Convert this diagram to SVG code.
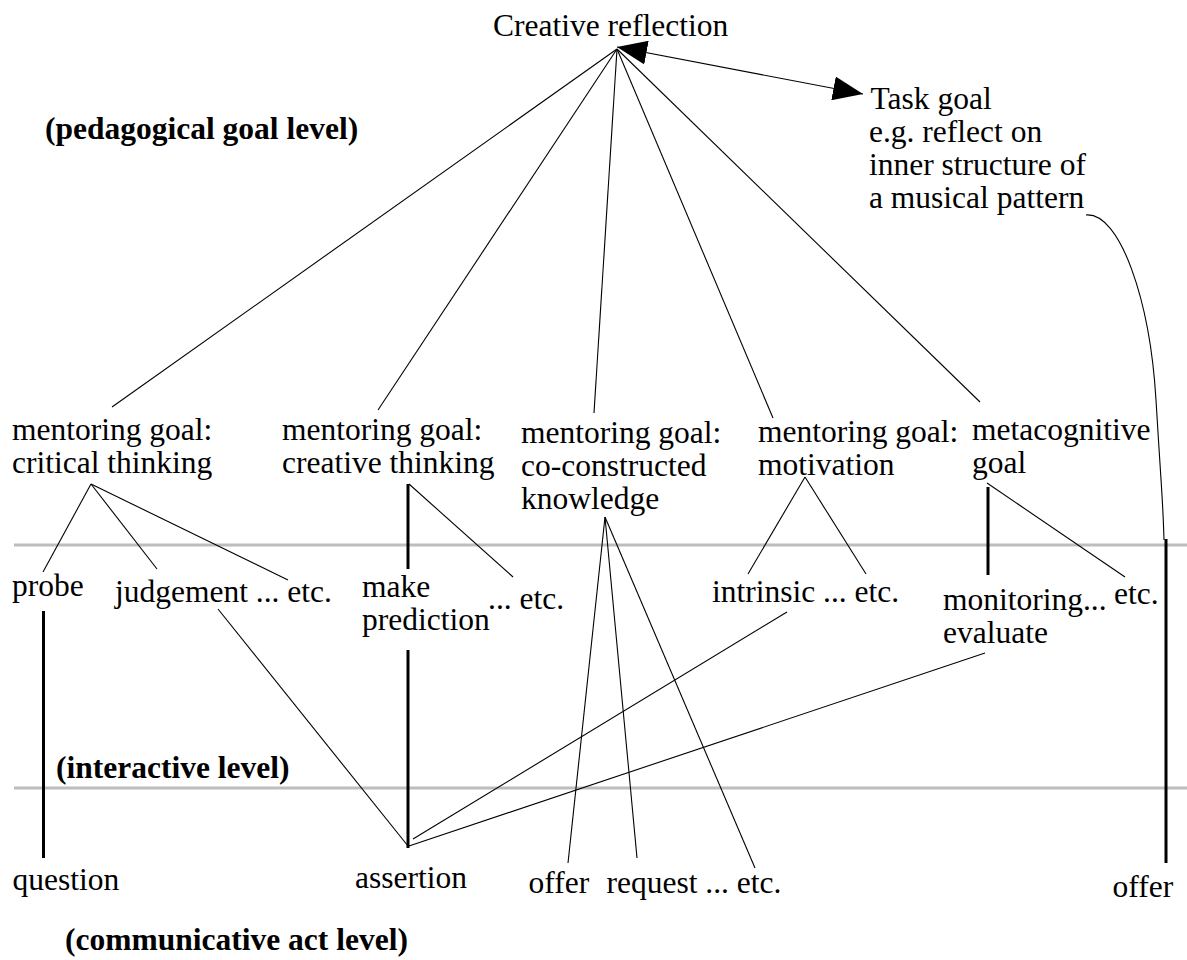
<svg xmlns="http://www.w3.org/2000/svg" width="1187" height="960" viewBox="0 0 1187 960">
<style>
text{font-family:'Liberation Serif','Times New Roman','DejaVu Serif',serif;font-size:31.5px;fill:#000}
.b{font-weight:bold}
.thin{stroke:#000;stroke-width:1.1;fill:none}
.bold{stroke:#000;stroke-width:3;fill:none}
.sep{stroke:#bdbdbd;stroke-width:3}
</style>
<defs>
<marker id="ah" markerUnits="userSpaceOnUse" markerWidth="30" markerHeight="24" viewBox="0 0 30 24" refX="30" refY="12" orient="auto-start-reverse">
<path d="M0,0 L30,12 L0,24 z" fill="#000"/>
</marker>
</defs>
<rect width="1187" height="960" fill="#fff"/>
<g id="separators">
<line class="sep" x1="14" y1="545" x2="1187" y2="545"/>
<line class="sep" x1="14" y1="788" x2="1187" y2="788"/>
</g>
<g id="connectors">
<line class="thin" x1="617" y1="49" x2="112" y2="407"/>
<line class="thin" x1="617" y1="49" x2="378" y2="410"/>
<line class="thin" x1="617" y1="49" x2="594" y2="413"/>
<line class="thin" x1="617" y1="49" x2="773" y2="418"/>
<line class="thin" x1="617" y1="49" x2="980" y2="402"/>
<path class="thin" d="M617,47 L863,94" marker-start="url(#ah)" marker-end="url(#ah)"/>
<path class="thin" d="M1086,215 C1120,212 1150,300 1156,400 S1163,500 1164,540"/>
<line class="bold" x1="1166" y1="539" x2="1166" y2="863"/>
<line class="thin" x1="91" y1="484" x2="43" y2="572"/>
<line class="thin" x1="91" y1="484" x2="157" y2="569"/>
<line class="thin" x1="91" y1="484" x2="288" y2="580"/>
<line class="bold" x1="408" y1="484" x2="408" y2="569"/>
<line class="thin" x1="409" y1="484" x2="513" y2="577"/>
<line class="thin" x1="605" y1="517" x2="568" y2="863"/>
<line class="thin" x1="605" y1="517" x2="637" y2="858"/>
<line class="thin" x1="605" y1="517" x2="755" y2="868"/>
<line class="thin" x1="805" y1="477" x2="748" y2="574"/>
<line class="thin" x1="805" y1="477" x2="866" y2="574"/>
<line class="bold" x1="988" y1="487" x2="988" y2="575"/>
<line class="thin" x1="987" y1="483" x2="1125" y2="577"/>
<line class="bold" x1="43.5" y1="611" x2="43.5" y2="858"/>
<line class="bold" x1="408" y1="650" x2="408" y2="848"/>
<line class="thin" x1="218" y1="609" x2="408" y2="846"/>
<line class="thin" x1="787" y1="612" x2="413" y2="839"/>
<line class="thin" x1="985" y1="653" x2="409" y2="846"/>
</g>
<g font-family="Liberation Serif, Times New Roman, DejaVu Serif, serif">
<g id="level-pedagogical"><text class="b" x="45" y="139">(pedagogical goal level)</text></g>
<g id="level-interactive"><text class="b" x="56" y="778">(interactive level)</text></g>
<g id="level-communicative"><text class="b" x="65" y="950">(communicative act level)</text></g>
<g id="n-creative-reflection"><text x="493" y="36">Creative reflection</text></g>
<g id="n-task-goal">
<text x="870.5" y="109">Task goal</text>
<text x="869" y="142">e.g. reflect on</text>
<text x="869" y="175">inner structure of</text>
<text x="869" y="208">a musical pattern</text>
</g>
<g id="n-critical"><text x="12" y="440">mentoring goal:</text><text x="12" y="473">critical thinking</text></g>
<g id="n-creative"><text x="282" y="440">mentoring goal:</text><text x="282" y="473">creative thinking</text></g>
<g id="n-coconstructed"><text x="521" y="443">mentoring goal:</text><text x="521" y="476">co-constructed</text><text x="521" y="509">knowledge</text></g>
<g id="n-motivation"><text x="758" y="442">mentoring goal:</text><text x="758" y="475">motivation</text></g>
<g id="n-metacognitive"><text x="972" y="440">metacognitive</text><text x="972" y="473">goal</text></g>
<g id="n-probe"><text x="12" y="596">probe</text></g>
<g id="n-judgement"><text x="115" y="602">judgement ... etc.</text></g>
<g id="n-make-prediction"><text x="362" y="597">make</text><text x="362" y="630">prediction</text></g>
<g id="n-creative-etc"><text x="488" y="609">... etc.</text></g>
<g id="n-intrinsic"><text x="712" y="602">intrinsic ... etc.</text></g>
<g id="n-monitoring"><text x="943" y="610">monitoring...</text><text x="1114" y="604">etc.</text><text x="943" y="643">evaluate</text></g>
<g id="n-question"><text x="12.5" y="890">question</text></g>
<g id="n-assertion"><text x="355" y="888">assertion</text></g>
<g id="n-offer-request"><text x="528.5" y="893">offer</text><text x="606.5" y="893">request ... etc.</text></g>
<g id="n-offer-right"><text x="1112.5" y="897">offer</text></g>
</g>
</svg>
